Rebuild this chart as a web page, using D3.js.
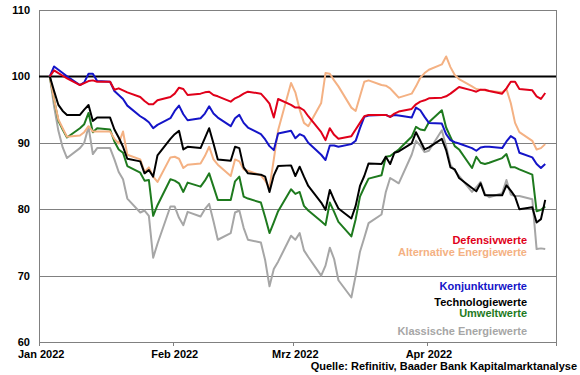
<!DOCTYPE html>
<html>
<head>
<meta charset="utf-8">
<script src="https://cdn.jsdelivr.net/npm/d3@7/dist/d3.min.js"></script>
<style>
body { margin: 0; background: #fff; }
text { font-family: "Liberation Sans", Arial, sans-serif; font-weight: bold; font-size: 11px; }
</style>
</head>
<body>
<div id="chart"></div>
<script>
// trading days per month (2022)
var janDays = [3,4,5,6,7,10,11,12,13,14,17,18,19,20,21,24,25,26,27,28,31],
    febDays = [1,2,3,4,7,8,9,10,11,14,15,16,17,18,21,22,23,24,25,28],
    marDays = [1,2,3,4,7,8,9,10,11,14,15,16,17,18,21,22,23,24,25,28,29,30,31],
    aprDays = [1,4,5,6,7,8,11,12,13,14,15,18,19,20,21,22,25,26,27,28];

// indexed values, 3 Jan 2022 = 100
var defensiv = [100,100.9,100.5,100.1,99.7,98.7,99.0,99.3,99.4,99.2,99.2,98.0,98.2,97.9,97.6,96.9,96.3,95.8,95.8,96.4,96.9,
  97.4,98.3,98.1,97.2,97.4,97.6,97.7,97.2,97.0,96.2,96.7,97.0,97.4,97.7,97.4,96.7,95.9,93.8,96.6,95.7,
  95.3,95.3,94.9,94.0,91.6,90.4,92.2,91.2,90.6,91.0,92.0,93.0,94.0,94.2,94.2,94.2,93.9,94.4,94.7,95.1,95.8,96.2,96.4,
  96.7,96.8,97.0,97.4,97.9,98.4,97.9,97.7,98.0,98.0,97.8,97.4,98.2,99.2,99.2,98.1,97.9,97.0,96.6,97.5];

var alternativ = [100,96.5,93.5,92.2,90.9,91.1,91.6,92.5,91.7,91.7,91.7,90.6,89.9,91.7,88.2,87.5,85.6,86.3,84.9,84.1,87.8,
  87.9,87.6,86.2,86.7,86.9,88.0,89.4,87.5,86.7,85.0,87.5,87.2,86.0,85.8,85.1,84.3,83.2,87.5,91.9,99.0,
  97.6,95.0,93.0,92.5,96.0,100.5,100.4,99.4,98.5,95.3,94.8,97.0,99.2,99.4,98.7,98.6,98.2,97.5,96.8,97.4,98.5,99.8,100.5,
  101.0,101.8,103.0,101.4,100.2,99.6,98.5,98.1,98.0,97.9,97.8,97.6,98.1,96.0,93.0,91.6,90.3,89.0,89.2,89.8];

var konjunktur = [100,101.5,101.0,100.5,100.0,98.7,99.1,100.4,100.4,99.3,99.2,97.8,97.2,96.6,95.6,94.0,93.6,93.1,92.2,92.7,93.7,
  94.8,95.6,94.3,93.4,93.7,94.4,95.5,94.4,93.8,92.5,93.7,94.2,93.0,92.3,91.3,90.5,89.5,88.9,91.4,91.8,
  90.7,91.3,91.0,90.0,88.2,87.4,89.6,89.6,89.4,89.8,90.3,92.2,93.9,94.1,94.2,94.2,93.9,94.2,94.1,93.8,95.3,94.9,93.9,
  93.0,92.9,91.3,90.4,90.1,89.9,89.2,88.8,89.3,89.4,89.4,89.2,90.2,91.0,90.6,88.5,87.8,86.8,86.2,86.8];

var technologie = [100,97.8,95.7,94.8,94.2,94.2,95.0,95.7,93.3,93.8,93.8,92.0,90.8,89.4,87.6,87.2,85.4,85.9,84.9,88.1,90.6,
  91.3,91.8,89.0,89.4,89.2,90.7,92.2,89.9,87.5,87.3,89.4,89.2,86.3,85.4,85.2,84.9,82.6,85.1,86.5,86.6,
  85.0,86.4,84.9,83.5,81.0,79.9,82.9,81.4,80.1,78.6,80.5,83.5,85.0,86.9,86.8,87.9,86.8,88.5,88.7,89.9,91.6,90.3,89.0,
  89.3,90.6,88.9,86.3,86.0,84.7,83.2,82.7,83.9,82.1,82.1,82.1,83.6,82.8,81.9,80.0,80.3,78.0,78.5,81.4];

var umwelt = [100,96.5,93.3,92.0,90.8,92.2,92.8,94.5,91.6,92.2,92.0,90.2,89.0,88.5,86.5,85.5,84.3,84.4,79.0,80.6,84.5,
  84.3,83.9,82.6,84.0,83.4,84.3,85.4,83.4,81.4,81.4,84.2,84.9,81.9,81.6,81.0,78.8,76.4,78.0,79.7,83.0,
  82.3,82.6,80.5,79.8,78.2,77.6,81.0,79.6,78.1,75.9,78.5,81.9,83.3,84.6,85.1,87.9,88.0,88.5,89.0,90.9,92.4,92.0,91.9,
  93.1,94.9,92.3,90.9,89.5,89.0,86.2,87.9,87.0,86.8,87.0,87.7,88.3,86.3,86.3,86.0,85.2,79.7,79.9,80.4];

var klassisch = [100,95.5,91.8,89.3,87.7,89.2,90.0,92.4,88.3,89.2,89.2,87.5,85.6,84.5,81.6,79.5,79.8,79.0,72.7,74.8,80.4,
  80.4,78.7,77.6,79.6,78.9,80.0,80.8,78.2,75.4,76.4,79.5,79.8,77.2,75.4,75.0,72.3,68.4,71.0,72.1,76.0,
  75.4,76.4,73.8,72.8,70.0,71.5,74.2,72.5,69.3,66.7,70.0,73.6,75.7,77.9,79.2,82.6,84.7,84.3,83.9,88.2,90.3,89.6,88.6,
  88.8,91.9,89.5,86.7,85.8,85.0,82.6,83.3,84.1,82.3,81.8,82.4,84.4,82.2,82.0,82.0,81.5,74.0,74.1,74.0];

var yTicks = [60, 70, 80, 90, 100, 110],
    monthLabels = ["Jan 2022", "Feb 2022", "Mrz 2022", "Apr 2022"],
    sourceText = "Quelle: Refinitiv, Baader Bank Kapitalmarktanalyse";

var width = 580, height = 375;
var margin = {left: 39, right: 24, top: 10, bottom: 33};

var dates = [];
[janDays, febDays, marDays, aprDays].forEach(function(days, m) {
  days.forEach(function(d) { dates.push(new Date(2022, m, d, 12)); });
});

// drawing order: first is at the bottom
var series = [
  {name: "Klassische Energiewerte", values: klassisch, color: "#a6a6a6", ly: 334.5},
  {name: "Umweltwerte", values: umwelt, color: "#1e7a1e", ly: 317.2},
  {name: "Alternative Energiewerte", values: alternativ, color: "#f4b183", ly: 256},
  {name: "Technologiewerte", values: technologie, color: "#000000", ly: 306.2},
  {name: "Konjunkturwerte", values: konjunktur, color: "#1414c8", ly: 289.6},
  {name: "Defensivwerte", values: defensiv, color: "#e0001a", ly: 244}
];

var x = d3.scaleTime()
    .domain([new Date(2022, 0, 1), new Date(2022, 4, 1)])
    .range([margin.left, width - margin.right]);

var y = d3.scaleLinear()
    .domain([60, 110])
    .range([height - margin.bottom, margin.top]);

var svg = d3.select("#chart").append("svg")
    .attr("width", width)
    .attr("height", height);

// grid lines
svg.append("g").selectAll("line")
    .data(yTicks.filter(function(t) { return t != 60 && t != 100; }))
  .enter().append("line")
    .attr("x1", x.range()[0])
    .attr("x2", x.range()[1])
    .attr("y1", function(d) { return Math.round(y(d)) + 0.5; })
    .attr("y2", function(d) { return Math.round(y(d)) + 0.5; })
    .attr("stroke", "#808080")
    .attr("stroke-width", 1);

// right border
svg.append("line")
    .attr("x1", x.range()[1] + 0.5).attr("x2", x.range()[1] + 0.5)
    .attr("y1", y(110)).attr("y2", y(60))
    .attr("stroke", "#808080");

// y axis
svg.append("line")
    .attr("x1", x.range()[0] + 0.5).attr("x2", x.range()[0] + 0.5)
    .attr("y1", y(110)).attr("y2", y(60))
    .attr("stroke", "#808080");

svg.append("g").selectAll("text")
    .data(yTicks)
  .enter().append("text")
    .attr("x", 30)
    .attr("y", function(d) { return y(d); })
    .attr("dy", "0.36em")
    .attr("text-anchor", "end")
    .text(function(d) { return d; });

// x axis
var months = d3.timeMonth.range(new Date(2022, 0, 1), new Date(2022, 4, 2));
var xAxis = svg.append("g");
xAxis.append("line")
    .attr("x1", x.range()[0]).attr("x2", x.range()[1] + 1)
    .attr("y1", Math.round(y(60)) + 0.5).attr("y2", Math.round(y(60)) + 0.5)
    .attr("stroke", "#808080");
xAxis.selectAll(".tick")
    .data(months)
  .enter().append("line")
    .attr("class", "tick")
    .attr("x1", function(d) { return Math.round(x(d)) + 0.5; })
    .attr("x2", function(d) { return Math.round(x(d)) + 0.5; })
    .attr("y1", y(60))
    .attr("y2", y(60) + 4)
    .attr("stroke", "#808080");
xAxis.selectAll(".label")
    .data(monthLabels)
  .enter().append("text")
    .attr("class", "label")
    .attr("x", function(d, i) { return x(d3.timeHour.offset(months[i], 12)); })
    .attr("y", 358)
    .attr("text-anchor", "middle")
    .text(function(d) { return d; });

// 100 reference line
svg.append("line")
    .attr("x1", x.range()[0]).attr("x2", x.range()[1])
    .attr("y1", y(100)).attr("y2", y(100))
    .attr("stroke", "#000")
    .attr("stroke-width", 2);

var line = d3.line()
    .x(function(d, i) { return x(dates[i]); })
    .y(function(d) { return y(d); });

svg.append("g").selectAll("path")
    .data(series)
  .enter().append("path")
    .attr("d", function(d) { return line(d.values); })
    .attr("fill", "none")
    .attr("stroke", function(d) { return d.color; })
    .attr("stroke-width", 2)
    .attr("stroke-linejoin", "round");

// series labels
svg.append("g").selectAll("text")
    .data(series)
  .enter().append("text")
    .attr("x", 527)
    .attr("y", function(d) { return d.ly; })
    .attr("text-anchor", "end")
    .attr("fill", function(d) { return d.color; })
    .text(function(d) { return d.name; });

svg.append("text")
    .attr("x", 577)
    .attr("y", 370)
    .attr("text-anchor", "end")
    .text(sourceText);
</script>
</body>
</html>
